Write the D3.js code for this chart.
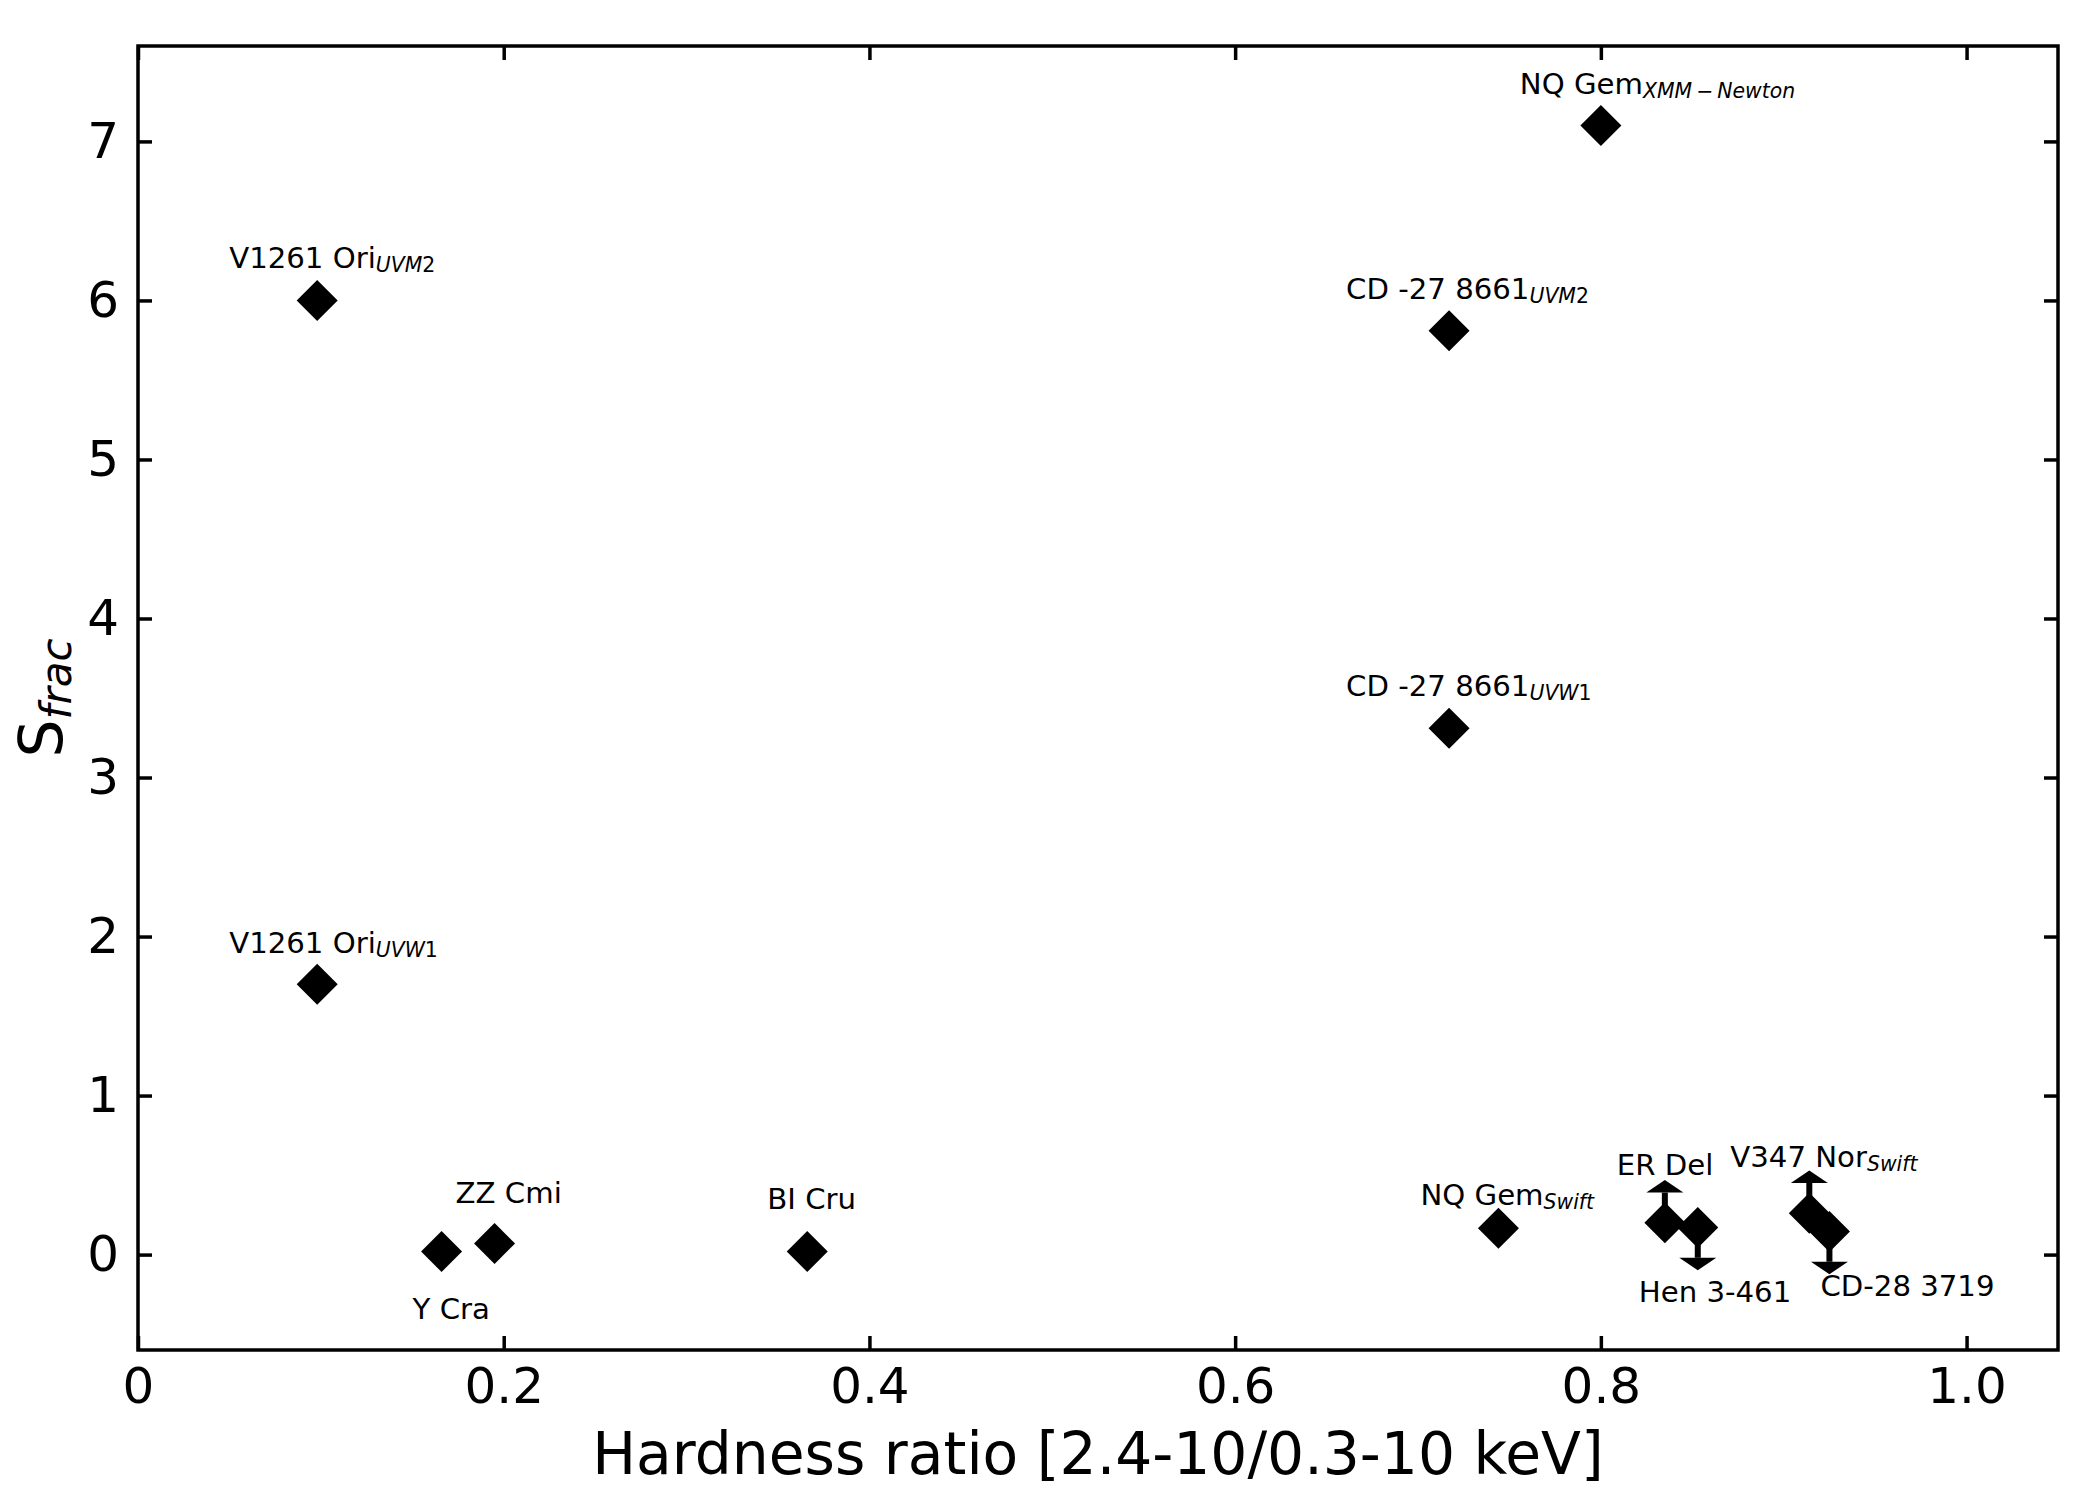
<!DOCTYPE html>
<meta charset="utf-8">
<style>
body { margin: 0; background: #fff; }
svg { display: block; font-family: "DejaVu Sans", sans-serif; }
.axis text { font-family: "DejaVu Sans", sans-serif; font-size: 50px; fill: #000; }
.axis line { stroke: #000; stroke-width: 3.5; }
.axis path { display: none; }
.lab { font-size: 29.2px; fill: #000; }
</style>
<svg width="2100" height="1500"></svg>
<script src="https://d3js.org/d3.v7.min.js"></script>
<script>

// sources, one entry per plotted point
var names    = ["V1261 Ori", "V1261 Ori", "NQ Gem", "CD -27 8661", "CD -27 8661", "NQ Gem",
                "ER Del", "Hen 3-461", "V347 Nor", "CD-28 3719", "Y Cra", "ZZ Cmi", "BI Cru"];
var subs     = ["UVM2", "UVW1", "XMM\u2009\u2212\u2009Newton", "UVM2", "UVW1", "Swift",
                "", "", "Swift", "", "", "", ""];
var hardness = [0.098, 0.098, 0.800, 0.717, 0.717, 0.744, 0.835, 0.853, 0.914, 0.925, 0.166, 0.195, 0.366];
var sfrac    = [6.00, 1.70, 7.10, 5.81, 3.31, 0.165, 0.20, 0.17, 0.26, 0.145, 0.02, 0.07, 0.02];
var limits   = ["", "", "", "", "", "", "lower", "upper", "lower", "upper", "", "", ""];
var limitLen = 0.19;

var xTicks = [0, 0.2, 0.4, 0.6, 0.8, 1.0],
    yTicks = [0, 1, 2, 3, 4, 5, 6, 7];

// label offsets from the point, in pixels (left edge, baseline)
var labelDx = [-88, -88, -81, -103, -103, -78, -48, -59, -79, -9, -29, -39, -40],
    labelDy = [-32, -31, -32, -32, -32, -23, -48, 74, -46, 64, 68, -40, -42];

var svg = d3.select("svg"),
    margin = {top: 46, right: 42, bottom: 150, left: 138},
    width = +svg.attr("width") - margin.left - margin.right,
    height = +svg.attr("height") - margin.top - margin.bottom;

var x = d3.scaleLinear().domain([0, 1.05]).range([0, width]),
    y = d3.scaleLinear().domain([-0.6, 7.6]).range([height, 0]);

var g = svg.append("g")
    .attr("transform", "translate(" + margin.left + "," + margin.top + ")");

var fmtX = function(d) { return d === 0 ? "0" : d3.format(".1f")(d); };

g.append("g")
    .attr("class", "axis")
    .attr("transform", "translate(0," + height + ")")
    .call(d3.axisBottom(x).tickValues(xTicks).tickFormat(fmtX)
      .tickSizeInner(-14).tickSizeOuter(0).tickPadding(17));

g.append("g")
    .attr("class", "axis")
    .call(d3.axisTop(x).tickValues(xTicks).tickFormat("")
      .tickSizeInner(-14).tickSizeOuter(0));

g.append("g")
    .attr("class", "axis")
    .call(d3.axisLeft(y).tickValues(yTicks).tickFormat(d3.format("d"))
      .tickSizeInner(-14).tickSizeOuter(0).tickPadding(19));

g.append("g")
    .attr("class", "axis")
    .attr("transform", "translate(" + width + ",0)")
    .call(d3.axisRight(y).tickValues(yTicks).tickFormat("")
      .tickSizeInner(-14).tickSizeOuter(0));

g.append("rect")
    .attr("width", width)
    .attr("height", height)
    .attr("fill", "none")
    .attr("stroke", "#000")
    .attr("stroke-width", 3.5);

// limit arrows
var idx = d3.range(names.length);
var lim = idx.filter(function(i) { return limits[i] !== ""; });

g.selectAll(".stem")
  .data(lim)
  .enter().append("line")
    .attr("x1", function(i) { return x(hardness[i]); })
    .attr("x2", function(i) { return x(hardness[i]); })
    .attr("y1", function(i) { return y(sfrac[i]); })
    .attr("y2", function(i) { return y(sfrac[i] + (limits[i] === "lower" ? limitLen : -limitLen)); })
    .attr("stroke", "#000")
    .attr("stroke-width", 6);

g.selectAll(".caret")
  .data(lim)
  .enter().append("path")
    .attr("transform", function(i) {
      var up = limits[i] === "lower";
      return "translate(" + x(hardness[i]) + "," +
        y(sfrac[i] + (up ? limitLen : -limitLen)) + ")" + (up ? "" : " scale(1,-1)");
    })
    .attr("d", "M-18.5,0L18.5,0L0,-12.5Z")
    .attr("fill", "#000");

// diamonds
g.selectAll(".pt")
  .data(idx)
  .enter().append("path")
    .attr("transform", function(i) {
      return "translate(" + x(hardness[i]) + "," + y(sfrac[i]) + ")";
    })
    .attr("d", "M0,-20.5L20.5,0L0,20.5L-20.5,0Z")
    .attr("fill", "#000");

// labels
var lab = g.selectAll(".lab")
  .data(idx)
  .enter().append("text")
    .attr("class", "lab")
    .attr("x", function(i) { return x(hardness[i]) + labelDx[i]; })
    .attr("y", function(i) { return y(sfrac[i]) + labelDy[i]; });

lab.append("tspan").text(function(i) { return names[i]; });

lab.each(function(i) {
  if (!subs[i]) return;
  var t = d3.select(this);
  var parts = subs[i].match(/[0-9]+|[^0-9]+/g);
  parts.forEach(function(p, k) {
    var s = t.append("tspan")
        .style("font-size", "20.4px")
        .style("font-style", /[0-9]/.test(p) ? "normal" : "italic")
        .text(p);
    if (k === 0) s.attr("dy", 4);
  });
});

// axis titles
svg.append("text")
    .attr("x", margin.left + width / 2)
    .attr("y", 1474)
    .attr("text-anchor", "middle")
    .style("font-size", "58.3px")
    .text("Hardness ratio [2.4-10/0.3-10 keV]");

var yl = svg.append("text")
    .attr("transform", "translate(62," + (margin.top + height / 2) + ") rotate(-90)")
    .attr("text-anchor", "middle")
    .style("font-size", "60px");
yl.append("tspan").text("S");
yl.append("tspan")
    .attr("dy", 9)
    .style("font-size", "42px")
    .style("font-style", "italic")
    .text("frac");

</script>
